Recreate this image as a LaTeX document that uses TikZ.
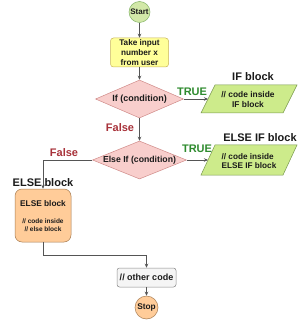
\documentclass[tikz,border=0pt]{standalone}
\usepackage{fontspec}
\setmainfont{Liberation Sans}
\usetikzlibrary{shapes.geometric,arrows.meta}
\definecolor{txt}{HTML}{1A1A1A}
\definecolor{lc}{HTML}{555555}
\definecolor{startf}{HTML}{D2E8A8}
\definecolor{startb}{HTML}{82B366}
\definecolor{inf}{HTML}{FFFF99}
\definecolor{inb}{HTML}{C8B45A}
\definecolor{diaf}{HTML}{F8CECC}
\definecolor{diab}{HTML}{D08A88}
\definecolor{parf}{HTML}{CDEB8B}
\definecolor{parb}{HTML}{7A9A50}
\definecolor{orf}{HTML}{FFCC99}
\definecolor{orb}{HTML}{A67C52}
\definecolor{gyf}{HTML}{F5F5F5}
\definecolor{gyb}{HTML}{8A8A8A}
\definecolor{truec}{HTML}{2E8B2E}
\definecolor{falsec}{HTML}{A8323A}
\newcommand{\fsz}[1]{\fontsize{#1}{#1}\selectfont\bfseries}
\begin{document}
\begin{tikzpicture}[x=1pt,y=-1pt,
  every node/.style={text=txt},
  conn/.style={draw=lc, line width=0.6pt},
  arr/.style={conn, -{Stealth[length=4pt,width=3.5pt]}},
  term/.style={circle, line width=0.5pt, inner sep=0pt},
  dia/.style={diamond, draw=diab, fill=diaf, line width=0.5pt, inner sep=0pt},
  para/.style={draw=parb, fill=parf, line width=0.5pt},
  lbl/.style={font=\fsz{11}, inner sep=0pt},
  tru/.style={font=\fsz{11}, text=truec, inner sep=0pt},
  fal/.style={font=\fsz{11}, text=falsec, inner sep=0pt}
]
\useasboundingbox (0,0) rectangle (303,320);
\fill[white] (0,0) rectangle (303,320);

% Start
\node[term, fill=startf, draw=startb, minimum size=21pt, font=\fsz{8}] (start) at (139.5,12) {Start};
% input
\node[draw=inb, fill=inf, line width=0.5pt, rounded corners=3pt, minimum width=58pt, minimum height=29pt, inner sep=0pt, align=center, font=\fontsize{8.2}{9.6}\selectfont\bfseries] (input) at (139.5,52.5) {Take input\\number x\\from user};

% If diamond
\node[dia, minimum width=88pt, minimum height=38pt] (if) at (139.5,99) {};
\node[font=\fsz{9}, inner sep=0pt] (ift) at (139.5,99) {If (condition)};

% Else if diamond
\node[dia, minimum width=94pt, minimum height=38pt] (elif) at (139.5,160) {};
\node[font=\fsz{8.7}, inner sep=0pt] (elift) at (139.5,160) {Else If (condition)};

% IF block parallelogram
\draw[para] (215,85) -- (297,85) -- (283,113) -- (201,113) -- cycle;
\coordinate (ifbin) at (208,99);
\node[align=center, inner sep=0pt, font=\fontsize{8.4}{10}\selectfont\bfseries] (ifbt) at (248,99) {// code inside\\IF block};
\node[lbl] (ifbl) at (253,77) {IF block};

% ELSE IF block parallelogram
\draw[para] (215,145) -- (297,145) -- (283,175) -- (201,175) -- cycle;
\coordinate (elifbin) at (208,160);
\node[align=left, inner sep=0pt, font=\fontsize{8.2}{9.4}\selectfont\bfseries] (elifbt) at (249,161) {// code inside\\ELSE IF block};
\node[lbl] (elifbl) at (260,138) {ELSE IF block};

% labels
\node[tru] (t1) at (192,92) {TRUE};
\node[tru] (t2) at (197,149) {TRUE};
\node[fal] (f1) at (120,128) {False};
\node[fal] (f2) at (64,153) {False};
\node[lbl] (elsel) at (43,183) {ELSE block};

% ELSE box
\node[draw=orb, fill=orf, line width=0.5pt, rounded corners=7pt, minimum width=56pt, minimum height=53pt, inner sep=0pt] (else) at (43,215.5) {};
\node[font=\fsz{8.3}, inner sep=0pt] (elset1) at (43,204) {ELSE block};
\node[align=center, inner sep=0pt, font=\fontsize{6.5}{8}\selectfont\bfseries] (elset2) at (43,225) {// code inside\\// else block};

% other code
\node[draw=gyb, fill=gyf, line width=0.5pt, rounded corners=2.5pt, minimum width=59pt, minimum height=19pt, inner sep=0pt, font=\fsz{9}] (other) at (146.5,277.5) {// other code};
% Stop
\node[term, fill=orf, draw=orb, minimum size=23pt, font=\fsz{8.3}] (stop) at (146.5,307.5) {Stop};

\coordinate (bend) at (43,255);

% connectors
\draw[arr] (start) -- (input);
\draw[arr] (input) -- (if);
\draw[arr] (if) -- (elif);
\draw[arr] (if.east) -- (ifbin);
\draw[arr] (elif.east) -- (elifbin);
\draw[arr] (elif.west) -| (else.north);
\draw[arr] (else.south) -- (bend) -| (other.north);
\draw[arr] (other) -- (stop);
\end{tikzpicture}
\end{document}
